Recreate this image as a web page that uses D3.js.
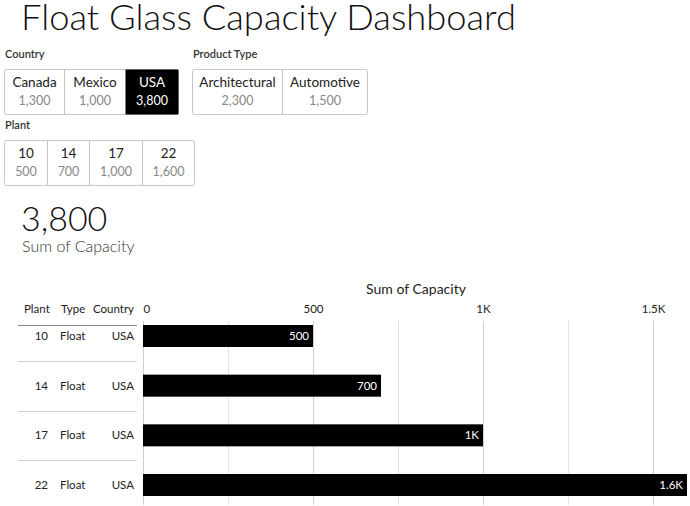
<!DOCTYPE html>
<html><head><meta charset="utf-8">
<script src="https://cdn.jsdelivr.net/npm/d3@7"></script>
<style>
html,body{margin:0;padding:0;background:#fff;}
svg{display:block;font-family:Lato,"Open Sans",sans-serif;}
</style></head><body>
<svg id="chart" width="690" height="506"></svg>
<script>
// ---- data ----
const title = "Float Glass Capacity Dashboard";
const countries = ["Canada", "Mexico", "USA"];
const countryValues = [1300, 1000, 3800];
const selectedCountry = "USA";
const productTypes = ["Architectural", "Automotive"];
const productTypeValues = [2300, 1500];
const plants = ["10", "14", "17", "22"];
const plantValues = [500, 700, 1000, 1600];
const rowTypes = ["Float", "Float", "Float", "Float"];
const rowCountries = ["USA", "USA", "USA", "USA"];
const totalCapacity = 3800;
const measureName = "Sum of Capacity";
const tableHeaders = ["Plant", "Type", "Country"];
const axisTicks = [0, 500, 1000, 1500];
const minorTicks = [250, 750, 1250];

// ---- layout (sizes of the filter cells) ----
const layout = {
  countryCells: [60, 61, 53],
  typeCells: [90, 85],
  plantCells: [43, 42, 53, 52]
};

const svg = d3.select("#chart");
const fmt = d3.format(",");
const fmtK = v => v >= 1000 ? d3.format("~g")(v / 1000) + "K" : String(v);

// title
svg.append("text").attr("x", 21).attr("y", 29.5)
  .attr("font-size", 36.3).attr("font-weight", 300).attr("fill", "#111")
  .text(title);

// filter widget
function filter(label, x, y, names, values, widths, selected) {
  svg.append("text").attr("x", x + 1).attr("y", y).attr("font-size", 11)
    .attr("font-weight", 600).attr("fill", "#333").text(label);
  const g = svg.append("g").attr("transform", `translate(${x},${y + 11})`);
  const h = 45;
  let cx = 0;
  const total = d3.sum(widths);
  g.append("rect").attr("x", 0.5).attr("y", 0.5).attr("width", total).attr("height", h)
    .attr("rx", 2).attr("fill", "#fff").attr("stroke", "#c6c6c6");
  names.forEach((n, i) => {
    const w = widths[i];
    const sel = n === selected;
    if (sel) g.append("rect").attr("x", cx + 0.5).attr("y", 0.5).attr("width", w).attr("height", h).attr("fill", "#000");
    else if (i > 0) g.append("line").attr("x1", cx + 0.5).attr("x2", cx + 0.5).attr("y1", 0.5).attr("y2", h + 0.5).attr("stroke", "#c6c6c6");
    g.append("text").attr("x", cx + w / 2 + 0.5).attr("y", 18).attr("text-anchor", "middle")
      .attr("font-size", 13.5).attr("fill", sel ? "#fff" : "#222").text(n);
    g.append("text").attr("x", cx + w / 2 + 0.5).attr("y", 36).attr("text-anchor", "middle")
      .attr("font-size", 12.5).attr("fill", sel ? "#fff" : "#888").text(fmt(values[i]));
    cx += w;
  });
}
filter("Country", 4, 58, countries, countryValues, layout.countryCells, selectedCountry);
filter("Product Type", 192, 58, productTypes, productTypeValues, layout.typeCells, null);
filter("Plant", 4, 129, plants, plantValues, layout.plantCells, null);

// KPI
svg.append("text").attr("x", 21).attr("y", 231).attr("font-size", 34).attr("font-weight", 300)
  .attr("fill", "#111").text(fmt(totalCapacity));
svg.append("text").attr("x", 22).attr("y", 252).attr("font-size", 16).attr("font-weight", 300)
  .attr("fill", "#333").text(measureName);

// bar chart
const x = d3.scaleLinear().domain([0, 1500]).range([143, 653]);
const y = d3.scaleBand().domain(plants).range([325, 496]).paddingInner(0.557).paddingOuter(0);
const gridTop = 321, gridBottom = 505;

svg.append("text").attr("x", 416).attr("y", 294).attr("text-anchor", "middle")
  .attr("font-size", 14).attr("fill", "#222").text(measureName);

// grid
svg.append("g").selectAll("line").data(minorTicks).join("line")
  .attr("x1", d => Math.round(x(d)) + 0.5).attr("x2", d => Math.round(x(d)) + 0.5)
  .attr("y1", gridTop).attr("y2", gridBottom).attr("stroke", "#e3e3e3");
svg.append("g").selectAll("line").data(axisTicks).join("line")
  .attr("x1", d => Math.round(x(d)) + 0.5).attr("x2", d => Math.round(x(d)) + 0.5)
  .attr("y1", gridTop).attr("y2", gridBottom).attr("stroke", "#cfcfcf");

// axis labels
const axis = d3.axisTop(x).tickValues(axisTicks).tickFormat(fmtK).tickSize(0).tickPadding(0);
const ax = svg.append("g").attr("transform", "translate(0,313)").call(axis);
ax.select(".domain").remove();
ax.selectAll("text").attr("font-size", 11.5).attr("fill", "#222").attr("font-family", "Lato,sans-serif")
  .attr("text-anchor", (d, i) => i === 0 ? "start" : "middle");

// bars
const rows = plants.map((p, i) => ({ plant: p, value: plantValues[i], type: rowTypes[i], country: rowCountries[i] }));
svg.append("g").selectAll("rect").data(rows).join("rect")
  .attr("x", x(0)).attr("y", d => y(d.plant)).attr("width", d => x(d.value) - x(0))
  .attr("height", y.bandwidth()).attr("fill", "#000");
svg.append("g").selectAll("text").data(rows).join("text")
  .attr("x", d => x(d.value) - 4).attr("y", d => y(d.plant) + y.bandwidth() / 2 + 4)
  .attr("text-anchor", "end").attr("font-size", 11.5).attr("fill", "#fff").text(d => fmtK(d.value));

// table headers
const hdr = svg.append("g").attr("font-size", 11.5).attr("fill", "#222");
hdr.append("text").attr("x", 24).attr("y", 313).text(tableHeaders[0]);
hdr.append("text").attr("x", 61).attr("y", 313).text(tableHeaders[1]);
hdr.append("text").attr("x", 134).attr("y", 313).attr("text-anchor", "end").text(tableHeaders[2]);

// table separators
const step = y.step();
const gap = step - y.bandwidth();
svg.append("line").attr("x1", 18).attr("x2", 137).attr("y1", 325.5).attr("y2", 325.5).attr("stroke", "#888");
svg.append("g").selectAll("line").data(plants.slice(1)).join("line")
  .attr("x1", 18).attr("x2", 137)
  .attr("y1", d => Math.round(y(d) - gap / 2) + 0.5)
  .attr("y2", d => Math.round(y(d) - gap / 2) + 0.5)
  .attr("stroke", "#d3d3d3");

const cells = svg.append("g").attr("font-size", 11.5).attr("fill", "#222");
rows.forEach(r => {
  const cy = y(r.plant) + y.bandwidth() / 2 + 4;
  cells.append("text").attr("x", 48).attr("y", cy).attr("text-anchor", "end").text(r.plant);
  cells.append("text").attr("x", 60).attr("y", cy).text(r.type);
  cells.append("text").attr("x", 134).attr("y", cy).attr("text-anchor", "end").text(r.country);
});
</script>
</body></html>
